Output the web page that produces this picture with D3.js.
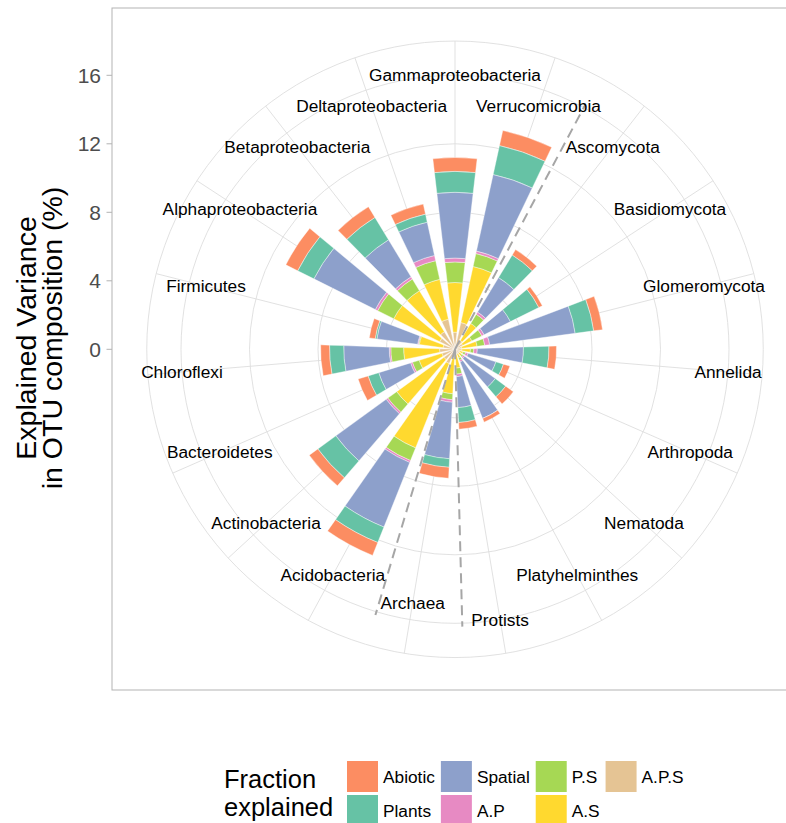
<!DOCTYPE html>
<html><head><meta charset="utf-8">
<script src="https://cdn.jsdelivr.net/npm/d3@7"></script>
<style>
body{margin:0;background:#fff}
text{font-family:"Liberation Sans",Arial,Helvetica,sans-serif}
</style>
</head><body>
<svg id="chart" width="786" height="823"></svg>
<script>
// ---------------- data ----------------
const categories = ["Gammaproteobacteria","Verrucomicrobia","Ascomycota","Basidiomycota","Glomeromycota",
  "Annelida","Arthropoda","Nematoda","Platyhelminthes","Protists","Archaea","Acidobacteria",
  "Actinobacteria","Bacteroidetes","Chloroflexi","Firmicutes","Alphaproteobacteria",
  "Betaproteobacteria","Deltaproteobacteria"];
const abiotic = [0.81,0.90,0.37,0.23,0.52,0.44,0.39,0.55,0.23,0.39,0.64,0.81,0.62,0.61,0.52,0.35,0.77,0.73,0.60];
const plants  = [1.22,1.73,1.54,1.85,1.09,1.49,0.46,0.75,0.00,0.87,0.50,0.97,1.30,0.65,0.83,0.10,1.06,1.53,0.48];
const spatial = [3.84,4.58,2.36,1.72,5.04,2.70,1.70,2.21,3.55,1.81,3.30,4.06,3.63,1.95,2.66,2.40,4.01,2.53,1.99];
const ap      = [0.23,0.15,0.15,0.15,0.29,0.20,0.15,0.10,0.10,0.15,0.15,0.12,0.12,0.11,0.09,0.05,0.15,0.15,0.31];
const psv     = [1.20,0.77,0.62,0.65,0.45,0.20,0.15,0.10,0.15,0.35,0.35,0.80,0.64,0.41,0.75,0.05,1.05,0.80,1.12];
const asv     = [2.90,3.35,1.17,0.60,0.90,0.50,0.20,0.20,0.25,0.80,2.10,5.30,3.41,1.39,2.10,1.40,3.00,2.80,2.38];
const aps     = [1.00,1.60,0.60,0.50,0.40,0.40,0.30,0.30,0.30,0.30,0.50,0.90,0.80,0.80,0.90,0.70,1.00,1.20,1.80];
const radialTicks = [0,4,8,12,16];
const radialLimits = [0,16];
// radial level (in % units) at which each category name is written
const labelLevel = [16,15,15,15,15,16,15,15,15,16,15,15,15,15,16,15,15,15,15];
// dashed group separators, in category-index units
const separators = [1.48, 9.42, 10.38];
const stackKeys = ["A.P.S","A.S","P.S","A.P","Spatial","Plants","Abiotic"];
const legendColumns = [["Abiotic","Plants"],["Spatial","A.P"],["P.S","A.S"],["A.P.S"]];
const colors = {"Abiotic":"#FC8D62","Plants":"#66C2A5","Spatial":"#8DA0CB","A.P":"#E78AC3",
  "P.S":"#A6D854","A.S":"#FFD92F","A.P.S":"#E5C494"};

// ---------------- layout ----------------
const svg = d3.select("#chart");
const panel = {left:112, top:8, right:798, bottom:690};
const cx = 455, cy = 349.3, side = 685;
const rMax = 0.4*side, rOuter = 0.45*side;
const n = categories.length;

const rows = categories.map((c,i)=>({cat:c,"Abiotic":abiotic[i],"Plants":plants[i],"Spatial":spatial[i],
  "A.P":ap[i],"P.S":psv[i],"A.S":asv[i],"A.P.S":aps[i]}));

const r = d3.scaleLinear().domain(radialLimits).range([0,rMax]);
const step = 2*Math.PI/n;
const theta = d3.scaleBand().domain(categories).range([-step/2, 2*Math.PI-step/2])
  .paddingInner(0.3).paddingOuter(0.15);
const thetaIdx = d3.scaleLinear().domain([0,n]).range([0,2*Math.PI]);
const mid = c => theta(c)+theta.bandwidth()/2;

const g = svg.append("g").attr("transform",`translate(${cx},${cy})`);

// grid
const gridCol = "#DEDEDE";
categories.forEach(c=>{
  const a = mid(c);
  g.append("line").attr("x1",0).attr("y1",0)
   .attr("x2",rOuter*Math.sin(a)).attr("y2",-rOuter*Math.cos(a))
   .attr("stroke",gridCol).attr("stroke-width",0.9);
});
radialTicks.filter(t=>t>0).map(t=>r(t)).concat([rOuter]).forEach(rad=>{
  g.append("circle").attr("r",rad).attr("fill","none").attr("stroke",gridCol).attr("stroke-width",0.9);
});

// bars
const stacked = d3.stack().keys(stackKeys)(rows);
const arc = d3.arc();
stacked.forEach(layer=>{
  g.append("g").selectAll("path").data(layer).join("path")
   .attr("d",d=>arc({innerRadius:r(d[0]),outerRadius:r(d[1]),
      startAngle:theta(d.data.cat),endAngle:theta(d.data.cat)+theta.bandwidth()}))
   .attr("fill",colors[layer.key])
   .attr("stroke","#fff").attr("stroke-width",0.4);
});

// dashed separators
separators.forEach(s=>{
  const a = thetaIdx(s);
  g.append("line").attr("x1",0).attr("y1",0)
   .attr("x2",r(16.2)*Math.sin(a)).attr("y2",-r(16.2)*Math.cos(a))
   .attr("stroke","#A6A6A6").attr("stroke-width",2).attr("stroke-dasharray","10,6");
});

// category labels
categories.forEach((c,i)=>{
  const a = mid(c), rad = r(labelLevel[i]);
  g.append("text").attr("x",rad*Math.sin(a)).attr("y",-rad*Math.cos(a))
   .attr("text-anchor","middle").attr("dominant-baseline","central")
   .attr("font-size",17.3).attr("fill","#000").text(c);
});

// panel border
svg.append("rect").attr("x",panel.left).attr("y",panel.top)
  .attr("width",panel.right-panel.left).attr("height",panel.bottom-panel.top)
  .attr("fill","none").attr("stroke","#B3B3B3").attr("stroke-width",1);

// radial axis on left
const ax = svg.append("g");
radialTicks.forEach(t=>{
  const y = cy - r(t);
  ax.append("line").attr("x1",panel.left-5.5).attr("x2",panel.left).attr("y1",y).attr("y2",y)
    .attr("stroke","#B3B3B3").attr("stroke-width",1);
  ax.append("text").attr("x",panel.left-11).attr("y",y).attr("text-anchor","end")
    .attr("dominant-baseline","central").attr("font-size",21).attr("fill","#4D4D4D").text(t);
});

// axis title
const at = svg.append("text").attr("transform","translate(0,338) rotate(-90)")
  .attr("text-anchor","middle").attr("font-size",28.5).attr("fill","#000");
at.append("tspan").attr("x",0).attr("y",36).text("Explained Variance");
at.append("tspan").attr("x",0).attr("y",61.5).text("in OTU composition (%)");

// legend
const lg = svg.append("g");
lg.append("text").attr("x",224).attr("y",788).attr("font-size",25.5).attr("fill","#000").text("Fraction");
lg.append("text").attr("x",224).attr("y",816).attr("font-size",25.5).attr("fill","#000").text("explained");
let lx = 347;
const key = 31, rowY = [761,795];
legendColumns.forEach(col=>{
  let maxW = 0;
  col.forEach((name,j)=>{
    lg.append("rect").attr("x",lx).attr("y",rowY[j]).attr("width",key).attr("height",key)
      .attr("fill",colors[name]);
    const t = lg.append("text").attr("x",lx+36).attr("y",rowY[j]+key/2)
      .attr("dominant-baseline","central").attr("font-size",17.3).attr("fill","#000").text(name);
    maxW = Math.max(maxW, t.node().getComputedTextLength());
  });
  lx += 36 + maxW + 6;
});
</script>
</body></html>
